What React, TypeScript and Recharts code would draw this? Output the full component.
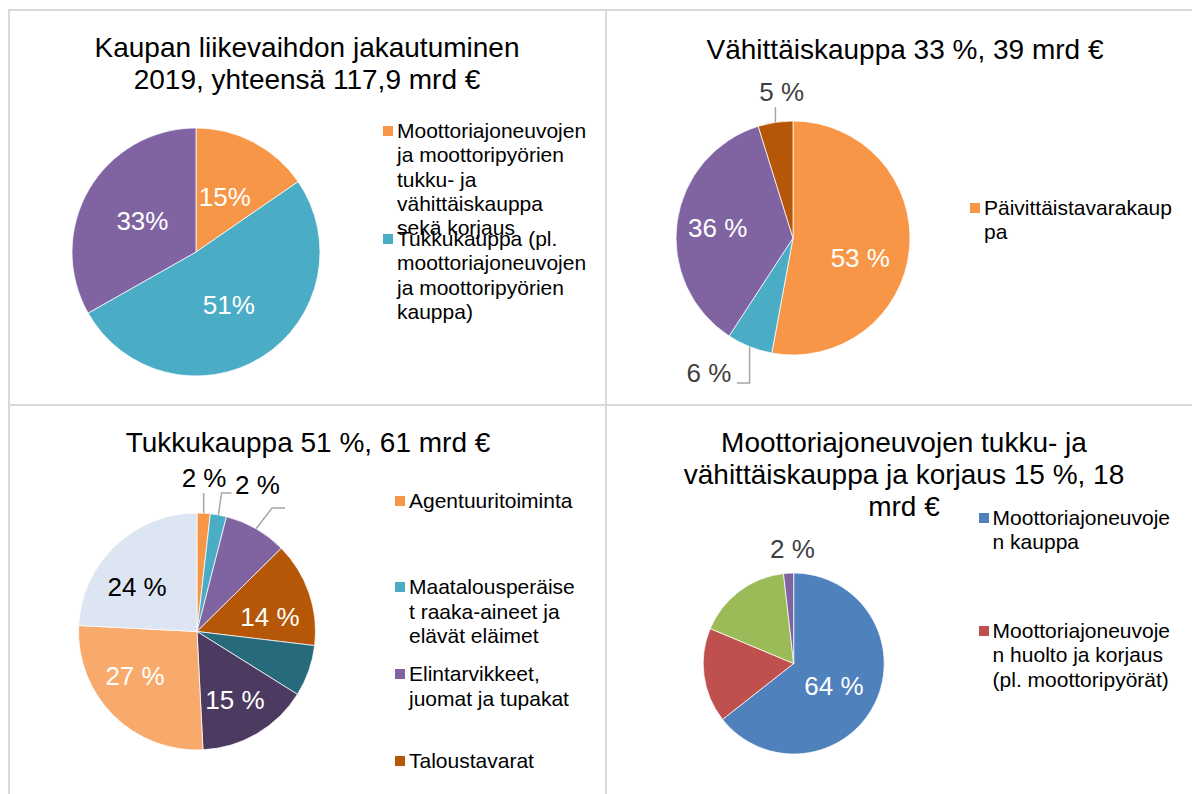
import { PieChart, Pie, Cell } from 'recharts';

const FONT = '"Liberation Sans", Arial, Helvetica, sans-serif';

// Kaupan liikevaihto 2019, osuudet (%)
const totalNames = [
  'Moottoriajoneuvojen ja moottoripyörien tukku- ja vähittäiskauppa sekä korjaus',
  'Tukkukauppa (pl. moottoriajoneuvojen ja moottoripyörien kauppa)',
  'Vähittäiskauppa',
];
const totalShares = [15.4, 51.4, 33.2];
const totalTitle = ['Kaupan liikevaihdon jakautuminen', '2019, yhteensä 117,9 mrd €'];

// Vähittäiskauppa
const retailNames = ['Päivittäistavarakauppa', 'Tavaratalokauppa', 'Erikoiskauppa', 'Muu vähittäiskauppa'];
const retailShares = [52.9, 6.3, 36.0, 4.8];
const retailTitle = ['Vähittäiskauppa 33 %, 39 mrd €'];

// Tukkukauppa
const wholesaleNames = [
  'Agentuuritoiminta',
  'Maatalousperäiset raaka-aineet ja elävät eläimet',
  'Elintarvikkeet, juomat ja tupakat',
  'Taloustavarat',
  'Tieto- ja viestintäteknisten laitteiden tukkukauppa',
  'Muiden koneiden ja laitteiden tukkukauppa',
  'Muu erikoistunut tukkukauppa',
  'Muu tukkukauppa',
];
const wholesaleShares = [1.8, 2.2, 8.6, 14.3, 7.0, 15.3, 26.6, 24.2];
const wholesaleTitle = ['Tukkukauppa 51 %, 61 mrd €'];

// Moottoriajoneuvojen kauppa ja korjaus
const motorNames = [
  'Moottoriajoneuvojen kauppa',
  'Moottoriajoneuvojen huolto ja korjaus (pl. moottoripyörät)',
  'Moottoriajoneuvojen osien ja varusteiden kauppa',
  'Moottoripyörien kauppa ja korjaus',
];
const motorShares = [64.4, 16.9, 16.9, 1.8];
const motorTitle = ['Moottoriajoneuvojen tukku- ja', 'vähittäiskauppa ja korjaus 15 %, 18', 'mrd €'];

const totalColors = ['#F79646', '#4BACC6', '#8064A2'];
const retailColors = ['#F79646', '#4BACC6', '#8064A2', '#B65708'];
const wholesaleColors = ['#F79646', '#4BACC6', '#8064A2', '#B65708', '#276A7C', '#4D3A60', '#F8AA6C', '#DCE5F1'];
const motorColors = ['#4F81BD', '#C0504D', '#9BBB59', '#8064A2'];

type Spot = {
  k: number; // fraction of radius
  da: number; // clockwise nudge from slice middle, degrees
  color: string;
  leader?: [number | null, number][];
  hidden?: boolean;
} | null;

const W = '#FFFFFF';
const G = '#404040';
const B = '#000000';

const totalSpots: Spot[] = [
  { k: 0.5, da: 0, color: W },
  { k: 0.5, da: 0, color: W },
  { k: 0.5, da: 0, color: W },
];
const retailSpots: Spot[] = [
  { k: 0.6, da: 11.4, color: W },
  { k: 1.36, da: 10.1, color: G, leader: [[null, 10], [28, 10]] },
  { k: 0.65, da: 0, color: W },
  { k: 1.25, da: 4.2, color: G, leader: [[null, 15]] },
];
const wholesaleSpots: Spot[] = [
  { k: 1.297, da: -0.6, color: B, leader: [[null, 15]] },
  { k: 1.338, da: 12, color: B, leader: [[-36, 8], [-26, 8]] },
  { k: 1.376, da: 9.3, color: B, leader: [[-28, 3], [-15, 3]], hidden: true },
  { k: 0.628, da: 7.7, color: W },
  null,
  { k: 0.661, da: 1.4, color: W },
  { k: 0.644, da: 9.3, color: W },
  { k: 0.63, da: -9.8, color: B },
];
const motorSpots: Spot[] = [
  { k: 0.51, da: 3.3, color: W },
  null,
  null,
  { k: 1.265, da: 2.6, color: G },
];

const RAD = Math.PI / 180;
const polar = (cx: number, cy: number, r: number, a: number) => ({
  x: cx + r * Math.cos(-a * RAD),
  y: cy + r * Math.sin(-a * RAD),
});

interface PanelProps {
  left: number; top: number; width: number; height: number;
  names: string[]; values: number[]; colors: string[];
  cx: number; cy: number; r: number;
  spots: Spot[]; suffix: string;
  title: string[]; titleCx: number; titleTop: number;
  legendX: number; legendY: number; legendStep: number; legendCount: number; legendWidth: number;
}

function Panel(p: PanelProps) {
  const data = p.names.map((name, i) => ({ name, value: p.values[i] }));
  const sum = p.values.reduce((a, b) => a + b, 0);

  const renderLabel = (props: any) => {
    const { midAngle, outerRadius, index } = props;
    const cx = Number(props.cx);
    const cy = Number(props.cy);
    const spot = p.spots[index];
    if (!spot) return null;
    const pos = polar(cx, cy, outerRadius * spot.k, midAngle - spot.da);
    let d = '';
    if (spot.leader) {
      const edge = polar(cx, cy, outerRadius, midAngle);
      const pts = [edge, ...spot.leader.map(([dx, dy]) => ({ x: dx === null ? edge.x : pos.x + dx, y: pos.y + dy }))];
      d = 'M' + pts.map((q) => `${q.x},${q.y}`).join('L');
    }
    return (
      <g key={`lbl-${index}`}>
        {d && <path d={d} stroke="#A6A6A6" strokeWidth={1.5} fill="none" />}
        {!spot.hidden && (
          <text x={pos.x} y={pos.y} fill={spot.color} textAnchor="middle" dominantBaseline="central"
            style={{ fontSize: 26, fontFamily: FONT }}>
            {Math.round((p.values[index] / sum) * 100)}{p.suffix}
          </text>
        )}
      </g>
    );
  };

  return (
    <div style={{ position: 'absolute', left: p.left, top: p.top, width: p.width, height: p.height }}>
      <PieChart width={p.width} height={p.height} margin={{ top: 0, right: 0, bottom: 0, left: 0 }}>
        <Pie
          data={data}
          dataKey="value"
          nameKey="name"
          cx={p.cx}
          cy={p.cy}
          outerRadius={p.r}
          startAngle={90}
          endAngle={-270}
          stroke="#FFFFFF"
          strokeWidth={0.75}
          label={renderLabel}
          labelLine={false}
          isAnimationActive={false}
        >
          {data.map((d, i) => <Cell key={d.name} fill={p.colors[i]} />)}
        </Pie>
      </PieChart>

      {/* Title, one centred line each */}
      {p.title.map((t, i) => (
        <div key={t} style={{
          position: 'absolute', left: p.titleCx, top: p.titleTop + i * 32, transform: 'translateX(-50%)',
          whiteSpace: 'nowrap', fontSize: 28, lineHeight: '32px', fontFamily: FONT, color: '#000',
        }}>
          {t}
        </div>
      ))}

      {/* Legend */}
      {p.names.slice(0, p.legendCount).map((name, i) => (
        <div key={name} style={{
          position: 'absolute', left: p.legendX, top: p.legendY + i * p.legendStep - 12.2,
          display: 'flex', alignItems: 'flex-start', fontFamily: FONT, fontSize: 21, lineHeight: '24.4px', color: '#000',
        }}>
          <div style={{ width: 10, height: 10, marginTop: 7, marginRight: 4, backgroundColor: p.colors[i], flex: 'none' }} />
          <div style={{ width: p.legendWidth, overflowWrap: 'anywhere' }}>{name}</div>
        </div>
      ))}
    </div>
  );
}

const line = '#D9D9D9';

export default function App() {
  return (
    <div style={{ position: 'absolute', left: 0, top: 0, width: 1192, height: 794, background: '#fff', overflow: 'hidden' }}>
      <div style={{ position: 'absolute', left: 8, top: 9, width: 1184, height: 2, background: line }} />
      <div style={{ position: 'absolute', left: 8, top: 9, width: 2, height: 785, background: line }} />
      <div style={{ position: 'absolute', left: 605, top: 9, width: 2, height: 785, background: line }} />
      <div style={{ position: 'absolute', left: 8, top: 404, width: 1184, height: 2, background: line }} />

      <Panel left={0} top={0} width={600} height={400}
        names={totalNames} values={totalShares} colors={totalColors}
        cx={196} cy={252} r={124} spots={totalSpots} suffix="%"
        title={totalTitle} titleCx={307} titleTop={32}
        legendX={383} legendY={131} legendStep={108} legendCount={2} legendWidth={192} />

      <Panel left={600} top={0} width={592} height={400}
        names={retailNames} values={retailShares} colors={retailColors}
        cx={193} cy={238} r={117} spots={retailSpots} suffix=" %"
        title={retailTitle} titleCx={305} titleTop={34}
        legendX={370} legendY={208} legendStep={100} legendCount={1} legendWidth={193} />

      <Panel left={0} top={400} width={600} height={394}
        names={wholesaleNames} values={wholesaleShares} colors={wholesaleColors}
        cx={197} cy={231.5} r={118.5} spots={wholesaleSpots} suffix=" %"
        title={wholesaleTitle} titleCx={308} titleTop={27}
        legendX={395} legendY={100.7} legendStep={86.8} legendCount={4} legendWidth={168} />

      <Panel left={600} top={400} width={592} height={394}
        names={motorNames} values={motorShares} colors={motorColors}
        cx={193.7} cy={263.5} r={90.5} spots={motorSpots} suffix=" %"
        title={motorTitle} titleCx={304} titleTop={27}
        legendX={378.6} legendY={118} legendStep={113} legendCount={2} legendWidth={183} />
    </div>
  );
}
